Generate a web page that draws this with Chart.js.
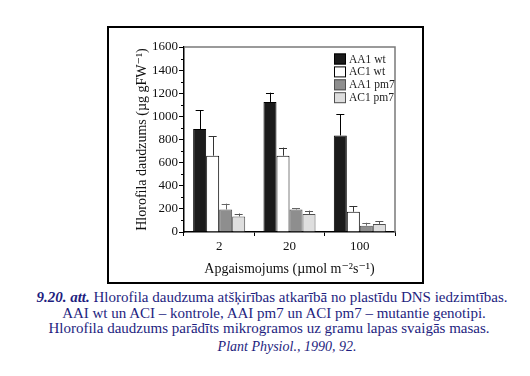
<!DOCTYPE html>
<html>
<head>
<meta charset="utf-8">
<script src="https://cdn.jsdelivr.net/npm/chart.js@4/dist/chart.umd.min.js"></script>
<style>
  body { margin: 0; background: #fff; width: 530px; height: 376px; position: relative; overflow: hidden; }
  #frame { position: absolute; left: 107px; top: 26px; width: 313px; height: 254px; border: 2px solid #000; }
  #chart { position: absolute; left: 0; top: 0; }
  .cap { position: absolute; left: 0; width: 530px; text-align: center; font-family: "Liberation Serif", "DejaVu Serif", serif; font-size: 15px; color: #1e1e80; white-space: nowrap; }
</style>
</head>
<body>
<div id="frame"><canvas id="chart" width="313" height="254"></canvas></div>
<div class="cap" style="top:289px; left:7px"><b><i>9.20. att.</i></b> Hlorofila daudzuma atšķirības atkarībā no plastīdu DNS iedzimtības.</div>
<div class="cap" style="top:305px; left:9px">AAI wt un ACI – kontrole, AAI pm7 un ACI pm7 – mutantie genotipi.</div>
<div class="cap" style="top:320px; left:4px">Hlorofila daudzums parādīts mikrogramos uz gramu lapas svaigās masas.</div>
<div class="cap" style="top:339px; left:22px; font-size:14px"><i>Plant Physiol., 1990, 92.</i></div>
<script>
// data
const categories = ['2', '20', '100'];
const seriesNames = ['AA1 wt', 'AC1 wt', 'AA1 pm7', 'AC1 pm7'];
const aa1wt = [890, 1125, 835];
const ac1wt = [660, 660, 175];
const aa1pm7 = [195, 195, 55];
const ac1pm7 = [135, 155, 70];
// upper end of the error bars
const aa1wtErr = [1055, 1205, 1020];
const ac1wtErr = [830, 730, 225];
const aa1pm7Err = [245, 205, 80];
const ac1pm7Err = [160, 185, 95];
const yTicks = [0, 200, 400, 600, 800, 1000, 1200, 1400, 1600];

const fills = ['#1b1b1b', '#ffffff', '#8e8e8e', '#dedede'];
const borders = ['#000000', '#000000', '#505050', '#505050'];
const errColors = ['#000000', '#333333', '#666666', '#555555'];
const values = [aa1wt, ac1wt, aa1pm7, ac1pm7];
const errs = [aa1wtErr, ac1wtErr, aa1pm7Err, ac1pm7Err];
const serif = '"Liberation Serif", "DejaVu Serif", serif';

const errorBars = {
  id: 'errorBars',
  afterDatasetsDraw(chart) {
    const ctx = chart.ctx;
    const y = chart.scales.y;
    ctx.save();
    chart.data.datasets.forEach((ds, i) => {
      const meta = chart.getDatasetMeta(i);
      meta.data.forEach((bar, j) => {
        const top = y.getPixelForValue(errs[i][j]);
        ctx.strokeStyle = errColors[i];
        ctx.lineWidth = 1;
        ctx.beginPath();
        ctx.moveTo(Math.round(bar.x) + 0.5, bar.y);
        ctx.lineTo(Math.round(bar.x) + 0.5, top);
        ctx.moveTo(bar.x - 4, Math.round(top) + 0.5);
        ctx.lineTo(bar.x + 4, Math.round(top) + 0.5);
        ctx.stroke();
      });
    });
    ctx.restore();
  }
};

const frameAndLegend = {
  id: 'frameAndLegend',
  beforeDatasetsDraw(chart) {
    const { ctx, chartArea: a } = chart;
    ctx.save();
    ctx.strokeStyle = '#7a7a7a';
    ctx.lineWidth = 1.5;
    ctx.beginPath();
    ctx.moveTo(a.left, a.top);
    ctx.lineTo(a.right, a.top);
    ctx.lineTo(a.right, a.bottom);
    ctx.stroke();
    ctx.restore();
  },
  afterDraw(chart) {
    const { ctx, chartArea: a } = chart;
    ctx.save();
    // minor y ticks
    const y = chart.scales.y;
    ctx.strokeStyle = '#000';
    ctx.lineWidth = 1;
    for (let v = 100; v < 1600; v += 200) {
      const py = Math.round(y.getPixelForValue(v)) + 0.5;
      ctx.beginPath();
      ctx.moveTo(a.left - 3, py);
      ctx.lineTo(a.left, py);
      ctx.stroke();
    }
    // legend
    ctx.font = '11.5px ' + serif;
    ctx.textBaseline = 'middle';
    seriesNames.forEach((name, i) => {
      const ly = 31 + i * 12.9;
      const lx = 225;
      ctx.fillStyle = fills[i];
      ctx.fillRect(lx, ly - 5.5, 12, 11);
      ctx.strokeStyle = borders[i];
      ctx.strokeRect(lx + 0.5, ly - 5, 11, 10);
      ctx.fillStyle = '#222';
      ctx.fillText(name, lx + 15, ly + 0.5);
    });
    ctx.restore();
  }
};

new Chart(document.getElementById('chart'), {
  type: 'bar',
  data: {
    labels: categories,
    datasets: seriesNames.map((name, i) => ({
      label: name,
      data: values[i],
      backgroundColor: fills[i],
      borderColor: borders[i],
      borderWidth: 1,
      barPercentage: 1,
      categoryPercentage: 0.74
    }))
  },
  options: {
    responsive: false,
    animation: false,
    layout: { padding: { top: 19, right: 27, left: 0, bottom: 4 } },
    plugins: { legend: { display: false }, tooltip: { enabled: false } },
    scales: {
      x: {
        afterFit(s) { s.height = 46; },
        grid: { display: true, drawOnChartArea: false, offset: true, tickLength: 4, color: '#000' },
        border: { color: '#000', width: 1.5 },
        ticks: { color: '#111', font: { family: serif, size: 13 }, padding: 3 },
        title: {
          display: true,
          text: 'Apgaismojums (µmol m⁻²s⁻¹)',
          color: '#111',
          font: { family: serif, size: 14 },
          padding: { top: 2, bottom: 0 }
        }
      },
      y: {
        min: 0,
        max: 1600,
        afterFit(s) { s.width = 75; },
        afterBuildTicks(s) { s.ticks = yTicks.map(v => ({ value: v })); },
        grid: { display: true, drawOnChartArea: false, tickLength: 5, color: '#000' },
        border: { color: '#000', width: 1.5 },
        ticks: { color: '#111', font: { family: serif, size: 13 }, padding: 1, callback: v => String(v) },
        title: {
          display: true,
          text: 'Hlorofila daudzums (µg gFW⁻¹)',
          color: '#111',
          font: { family: serif, size: 14 },
          padding: { top: 25, bottom: 0 }
        }
      }
    }
  },
  plugins: [errorBars, frameAndLegend]
});
</script>
</body>
</html>
